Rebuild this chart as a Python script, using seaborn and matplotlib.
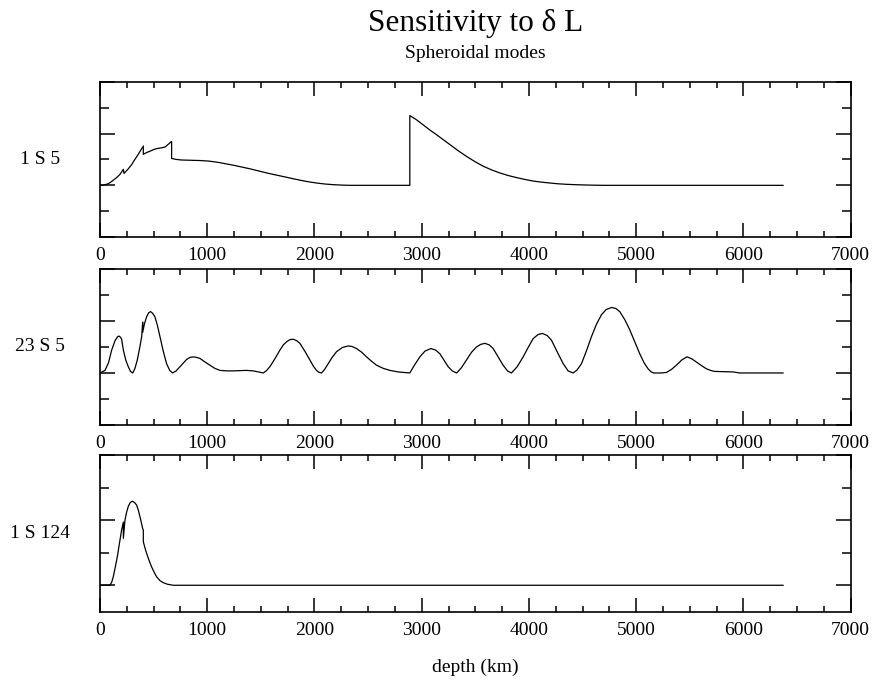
"""Sensitivity kernels to delta L for three spheroidal modes."""

import matplotlib
matplotlib.use("Agg")
import matplotlib.pyplot as plt
from matplotlib.ticker import MultipleLocator
import seaborn as sns

# depth (km) / kernel value
depth_1s5 = [0, 31, 62, 93, 124, 155, 186, 218, 224, 260, 295, 325, 357, 380, 404, 404,
             435, 466, 497, 528, 570, 606, 668, 668, 715, 761, 850, 932, 1010, 1087,
             1165, 1243, 1320, 1398, 1476, 1554, 1630, 1709, 1786, 1864, 1940, 2019,
             2100, 2175, 2250, 2330, 2889, 2889, 2950, 3014, 3076, 3138, 3200, 3262,
             3340, 3418, 3495, 3573, 3650, 3728, 3806, 3884, 3960, 4039, 4117, 4195,
             4270, 4350, 4440, 4536, 4630, 4723, 6371]
kern_1s5 = [0, 0.005, 0.02, 0.05, 0.10, 0.15, 0.21, 0.31, 0.23, 0.31, 0.40, 0.50, 0.60,
            0.68, 0.76, 0.60, 0.635, 0.66, 0.69, 0.71, 0.725, 0.74, 0.85, 0.52, 0.50,
            0.49, 0.485, 0.48, 0.47, 0.45, 0.42, 0.39, 0.355, 0.32, 0.28, 0.24, 0.205,
            0.17, 0.135, 0.10, 0.07, 0.045, 0.025, 0.013, 0.005, 0, 0, 1.35, 1.27,
            1.17, 1.07, 0.98, 0.885, 0.79, 0.67, 0.56, 0.46, 0.37, 0.30, 0.24, 0.19,
            0.15, 0.115, 0.083, 0.062, 0.045, 0.03, 0.02, 0.012, 0.006, 0.002, 0, 0]

depth_23s5 = [0, 47, 80, 109, 140, 165, 177, 190, 202, 218, 240, 264, 285, 305, 325, 348,
              370, 389, 398, 398, 415, 435, 455, 472, 490, 512, 535, 559, 590, 621, 650,
              677, 710, 746, 808, 840, 870, 900, 932, 980, 1025, 1070, 1118, 1180, 1243,
              1300, 1367, 1429, 1480, 1522, 1550, 1584, 1630, 1678, 1710, 1740, 1770,
              1802, 1835, 1864, 1910, 1957, 1990, 2019, 2040, 2066, 2095, 2128, 2165,
              2206, 2260, 2314, 2350, 2392, 2440, 2485, 2530, 2578, 2640, 2703, 2780,
              2889, 2935, 2983, 3030, 3085, 3130, 3169, 3210, 3247, 3285, 3325, 3370,
              3418, 3465, 3511, 3550, 3589, 3630, 3666, 3710, 3759, 3800, 3837, 3890,
              3946, 3995, 4039, 4085, 4126, 4170, 4210, 4265, 4319, 4365, 4412, 4450,
              4490, 4535, 4583, 4630, 4676, 4720, 4770, 4810, 4847, 4895, 4940, 4990,
              5033, 5075, 5111, 5140, 5164, 5230, 5282, 5330, 5375, 5425, 5474, 5520,
              5562, 5610, 5655, 5700, 5732, 5820, 5903, 5965, 6371]
kern_23s5 = [0, 0.05, 0.2, 0.44, 0.62, 0.70, 0.71, 0.69, 0.65, 0.44, 0.25, 0.12, 0.03, 0,
             0.08, 0.25, 0.48, 0.70, 0.98, 0.78, 0.95, 1.08, 1.16, 1.18, 1.15, 1.08,
             0.92, 0.70, 0.42, 0.18, 0.05, 0, 0.04, 0.12, 0.26, 0.30, 0.31, 0.30, 0.28,
             0.21, 0.15, 0.09, 0.05, 0.04, 0.04, 0.045, 0.05, 0.04, 0.02, 0, 0.04, 0.12,
             0.27, 0.44, 0.54, 0.60, 0.64, 0.65, 0.62, 0.57, 0.42, 0.25, 0.13, 0.05,
             0.015, 0, 0.07, 0.18, 0.30, 0.41, 0.49, 0.52, 0.51, 0.47, 0.40, 0.31, 0.23,
             0.15, 0.09, 0.05, 0.02, 0, 0.16, 0.31, 0.42, 0.47, 0.44, 0.37, 0.24, 0.12,
             0.04, 0, 0.1, 0.25, 0.40, 0.50, 0.55, 0.57, 0.54, 0.47, 0.32, 0.15, 0.04, 0,
             0.12, 0.31, 0.50, 0.66, 0.74, 0.76, 0.72, 0.63, 0.40, 0.18, 0.04, 0, 0.06,
             0.18, 0.42, 0.70, 0.94, 1.12, 1.22, 1.26, 1.24, 1.18, 1.02, 0.83, 0.58,
             0.37, 0.19, 0.08, 0.02, 0, 0, 0.01, 0.07, 0.15, 0.25, 0.31, 0.27, 0.21,
             0.14, 0.08, 0.045, 0.03, 0.025, 0.02, 0, 0]

depth_1s124 = [0, 93, 110, 124, 143, 162, 182, 202, 218, 218, 233, 248, 264, 282, 301,
               322, 342, 358, 373, 386, 398, 404, 404, 420, 435, 458, 482, 505, 528, 560,
               590, 630, 684, 6371]
kern_1s124 = [0, 0, 0.05, 0.13, 0.28, 0.44, 0.65, 0.85, 0.97, 0.72, 1.0, 1.12, 1.21,
              1.27, 1.29, 1.27, 1.23, 1.15, 1.05, 0.96, 0.87, 0.85, 0.67, 0.57, 0.49,
              0.38, 0.28, 0.2, 0.13, 0.07, 0.04, 0.015, 0, 0]

mode_labels = ["1 S 5", "23 S 5", "1 S 124"]
ylims = [(-1.0, 2.0), (-1.0, 2.0), (-0.41, 2.0)]

sns.set_style("ticks")
plt.rcParams["font.family"] = ["Liberation Serif", "DejaVu Serif"]
plt.rcParams.update({
    "axes.linewidth": 1.2,
    "axes.edgecolor": "black",
    "text.color": "black",
    "xtick.color": "black",
    "ytick.color": "black",
})

fig = plt.figure(figsize=(8.77, 6.86), dpi=100)
boxes = [(0.114, 0.6545, 0.856, 0.226),
         (0.114, 0.3805, 0.856, 0.2274),
         (0.114, 0.1079, 0.856, 0.2289)]

series = [(depth_1s5, kern_1s5), (depth_23s5, kern_23s5), (depth_1s124, kern_1s124)]

for box, (xs, ys), label, ylim in zip(boxes, series, mode_labels, ylims):
    ax = fig.add_axes(box)
    sns.lineplot(x=xs, y=ys, ax=ax, color="black", linewidth=0.9,
                 estimator=None, sort=False)
    ax.set_xlim(0, 7000)
    ax.set_ylim(*ylim)
    ax.xaxis.set_major_locator(MultipleLocator(1000))
    ax.xaxis.set_minor_locator(MultipleLocator(250))
    ax.yaxis.set_major_locator(MultipleLocator(1))
    ax.yaxis.set_minor_locator(MultipleLocator(0.5))
    ax.tick_params(axis="x", which="both", direction="in", top=True, bottom=True,
                   labelsize=14, pad=7, width=1.1)
    ax.tick_params(axis="x", which="major", length=10)
    ax.tick_params(axis="x", which="minor", length=4.5)
    ax.tick_params(axis="y", which="both", direction="in", left=True, right=True,
                   labelleft=False, width=1.1)
    ax.tick_params(axis="y", which="major", length=11)
    ax.tick_params(axis="y", which="minor", length=6.5)
    ax.set_xlabel("")
    ax.set_ylabel("")
    ax.text(-0.08, 0.5, label, transform=ax.transAxes, ha="center", va="center",
            fontsize=14)

fig.text(0.542, 0.966, "Sensitivity to δ L", ha="center", va="center", fontsize=22.5)
fig.text(0.542, 0.922, "Spheroidal modes", ha="center", va="center", fontsize=14)
fig.text(0.542, 0.027, "depth (km)", ha="center", va="center", fontsize=14)

fig.savefig("out.png", dpi=100)
